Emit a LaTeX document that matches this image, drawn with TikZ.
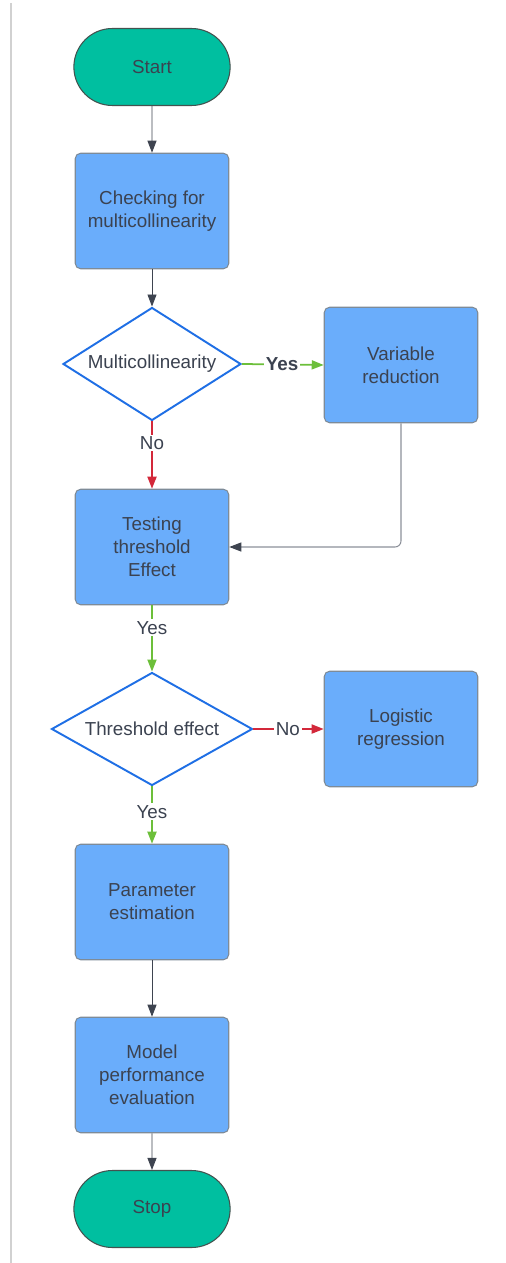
\documentclass[tikz,border=0pt]{standalone}
\usepackage{fontspec}
\setmainfont{Liberation Sans}
\usetikzlibrary{positioning,
	shapes.geometric,
	shapes.misc,
	arrows.meta,
	calc}

\definecolor{termfill}{HTML}{00BFA0}
\definecolor{termline}{HTML}{44524F}
\definecolor{boxfill}{HTML}{6AADFB}
\definecolor{boxline}{HTML}{7E8B98}
\definecolor{decline}{HTML}{1F6FE5}
\definecolor{txtcol}{HTML}{3B4250}
\definecolor{yescol}{HTML}{6CBF3A}
\definecolor{nocol}{HTML}{D3283A}
\definecolor{arrcol}{HTML}{3E4450}
\definecolor{backcol}{HTML}{8C9099}

\tikzset{
	every node/.style={font=\fontsize{10.7}{13}\selectfont, text=txtcol, align=center},
	terminal/.style={rounded rectangle, draw=termline, fill=termfill, line width=0.6pt,
		minimum width=3.36cm, minimum height=1.54cm},
	process/.style={rectangle, rounded corners=3pt, draw=boxline, fill=boxfill, line width=0.6pt,
		minimum width=3.07cm, minimum height=2.31cm},
	decision/.style={diamond, draw=decline, fill=white, line width=1.1pt, inner sep=0pt, aspect=1.6},
	tip/.style={-{Triangle[length=0.24cm,width=0.18cm,color=#1]}},
	flow/.style={draw=arrcol, line width=0.5pt, tip=arrcol},
	yesflow/.style={draw=yescol, line width=1pt, tip=yescol},
	noflow/.style={draw=nocol, line width=1pt, tip=nocol},
	branch/.style={fill=white, inner sep=1pt}
}

\begin{document}
\begin{tikzpicture}[x=0.02cm, y=-0.02cm]
	\useasboundingbox (0,0) rectangle (505,1263);
	\draw[color=black!18, line width=1.2pt] (11,3) -- (11,1263);

	% main column
	\node[terminal] (start) at (152,67) {Start};
	\node[process] (check) at (152,211) {Checking for\\multicollinearity};
	\node[decision, minimum width=3.56cm, minimum height=2.26cm] (multi) at (152,364) {Multicollinearity};
	\node[process] (testing) at (152,547) {Testing\\threshold\\Effect};
	\node[decision, minimum width=4.02cm, minimum height=2.26cm] (thresh) at (152,729) {Threshold effect};
	\node[process] (param) at (152,902) {Parameter\\estimation};
	\node[process] (model) at (152,1075) {Model\\performance\\evaluation};
	\node[terminal] (stop) at (152,1209) {Stop};

	% side boxes
	\node[process] (varred) at (401,365) {Variable\\reduction};
	\node[process] (logreg) at (401,729) {Logistic\\regression};

	\foreach \a/\b in {start/check, check/multi, param/model, model/stop}
		\draw[flow] (\a) -- (\b);

	\draw[yesflow] (multi.east) -- node[branch, pos=0.49] {\textbf{Yes}} (varred.west);
	\draw[noflow] (multi.south) -- node[branch, pos=0.32] {No} (testing.north);
	\draw[draw=backcol, line width=0.6pt, tip=arrcol, rounded corners=0.12cm]
		(varred.south) |- (testing.east);
	\draw[yesflow] (testing.south) -- node[branch, pos=0.34] {Yes} (thresh.north);
	\draw[noflow] (thresh.east) -- node[branch, pos=0.49] {No} (logreg.west);
	\draw[yesflow] (thresh.south) -- node[branch, pos=0.44] {Yes} (param.north);
\end{tikzpicture}
\end{document}
